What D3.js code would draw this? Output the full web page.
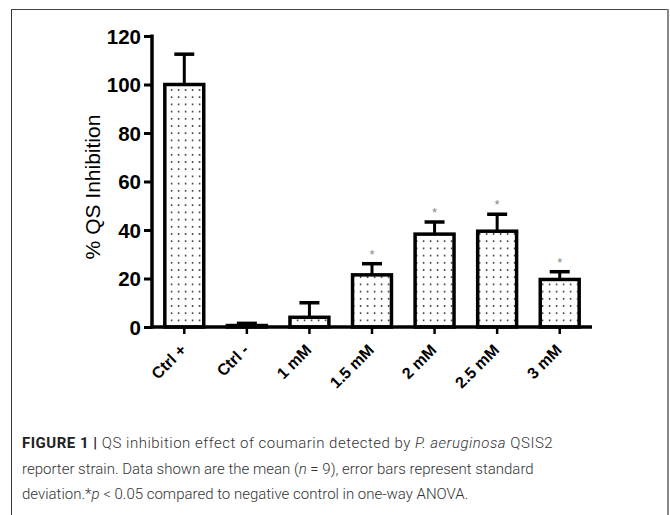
<!DOCTYPE html>
<html><head><meta charset="utf-8">
<script src="https://cdn.jsdelivr.net/npm/d3@7"></script>
<style>body{margin:0;background:#fff}svg{display:block}</style>
</head><body>
<svg id="c" width="670" height="515"></svg>
<script>
const categories = ["Ctrl +","Ctrl -","1 mM","1.5 mM","2 mM","2.5 mM","3 mM"];
const means = [100, 0.6, 4, 21.5, 38.3, 39.5, 19.6];
const errors = [12.5, 0.9, 6, 4.6, 5, 7, 3.2];
const significant = [false, false, false, true, true, true, true];
const yTicks = [0,20,40,60,80,100,120];
const yLabel = "% QS Inhibition";

const svg = d3.select("#c");
// frame
svg.append("line").attr("x1",11.5).attr("x2",11.5).attr("y1",9).attr("y2",515).attr("stroke","#333").attr("stroke-width",1);
svg.append("line").attr("x1",11).attr("x2",668).attr("y1",9.5).attr("y2",9.5).attr("stroke","#444").attr("stroke-width",1.2);
svg.append("line").attr("x1",668).attr("x2",668).attr("y1",9).attr("y2",515).attr("stroke","#888").attr("stroke-width",2);

const defs = svg.append("defs");
const pat = defs.append("pattern").attr("id","dots").attr("patternUnits","userSpaceOnUse")
  .attr("width",7).attr("height",7.2);
pat.append("rect").attr("width",7).attr("height",7.2).attr("fill","#fff");
pat.append("rect").attr("x",2.8).attr("y",2.8).attr("width",1.6).attr("height",1.6).attr("fill","#333");

const x = d3.scaleBand().domain(categories).range([153,591]).paddingInner(0.33).paddingOuter(0.165);
const y = d3.scaleLinear().domain([0,120]).range([327,36]);

const g = svg.append("g");
// bars
g.selectAll("rect.bar").data(categories).join("rect").attr("class","bar")
  .attr("x",d=>x(d)+1.5).attr("width",x.bandwidth()-3)
  .attr("y",(d,i)=>y(means[i])).attr("height",(d,i)=>Math.max(0,y(0)-y(means[i])))
  .attr("fill","url(#dots)").attr("stroke","#000").attr("stroke-width",3.5);
// error bars
const cx = d=>x(d)+x.bandwidth()/2;
g.selectAll("line.err").data(categories).join("line").attr("class","err")
  .attr("x1",cx).attr("x2",cx)
  .attr("y1",(d,i)=>y(means[i])).attr("y2",(d,i)=>y(means[i]+errors[i]))
  .attr("stroke","#000").attr("stroke-width",3);
g.selectAll("line.cap").data(categories).join("line").attr("class","cap")
  .attr("x1",d=>cx(d)-10).attr("x2",d=>cx(d)+10)
  .attr("y1",(d,i)=>y(means[i]+errors[i])).attr("y2",(d,i)=>y(means[i]+errors[i]))
  .attr("stroke","#000").attr("stroke-width",3.5);
// asterisks
g.selectAll("text.ast").data(categories.filter((d,i)=>significant[i])).join("text").attr("class","ast")
  .attr("x",cx)
  .attr("y",d=>{const i=categories.indexOf(d);return y(means[i]+errors[i])-5;})
  .attr("text-anchor","middle").attr("font-family","Liberation Sans, Arial, sans-serif")
  .attr("font-size",13).attr("fill","#888").text("*");

// axes
const yAxis = d3.axisLeft(y).tickValues(yTicks).tickSize(8).tickPadding(3).tickFormat(d3.format("d"));
const ya = svg.append("g").attr("transform","translate(152,0)").call(yAxis);
ya.select(".domain").attr("d","M0,34.5V328.5").attr("stroke","#000").attr("stroke-width",3.5);
ya.selectAll(".tick line").attr("stroke","#000").attr("stroke-width",3);
ya.selectAll(".tick text").attr("font-family","Liberation Sans, Arial, sans-serif").attr("font-weight","bold")
  .attr("font-size",20.5).attr("fill","#000").attr("dy","0.36em");

const xAxis = d3.axisBottom(x).tickSize(7).tickSizeOuter(0);
const xa = svg.append("g").attr("transform","translate(0,327)").call(xAxis);
xa.select(".domain").attr("d","M150.5,0H592").attr("stroke","#000").attr("stroke-width",3.5);
xa.selectAll(".tick line").attr("stroke","#000").attr("stroke-width",2.5);
xa.selectAll(".tick text").attr("font-family","Liberation Sans, Arial, sans-serif").attr("font-weight","bold")
  .attr("font-size",16).attr("fill","#000").attr("text-anchor","end")
  .attr("transform","translate(-1,20) rotate(-45)").attr("dy","0.35em").attr("y",0);

svg.append("text").attr("transform","translate(100,187) rotate(-90)").attr("text-anchor","middle")
  .attr("font-family","Liberation Sans, Arial, sans-serif").attr("font-size",21).attr("fill","#000").text(yLabel);

// caption
const capFont = "Roboto, Liberation Sans, Arial, sans-serif";
const lines = [
  {y:448, ls:0.5, parts:[["FIGURE 1 | ","bold",""],["QS inhibition effect of coumarin detected by ","",""],["P. aeruginosa","","italic"],[" QSIS2","",""]]},
  {y:474, ls:0, parts:[["reporter strain. Data shown are the mean (","",""],["n","","italic"],[" = 9), error bars represent standard","",""]]},
  {y:499, ls:0, parts:[["deviation.*","",""],["p","","italic"],[" < 0.05 compared to negative control in one-way ANOVA.","",""]]}
];
lines.forEach(l=>{
  const t = svg.append("text").attr("x",22).attr("y",l.y).attr("font-family",capFont).attr("font-size",15)
    .attr("fill","#333").style("font-weight","300").style("letter-spacing",l.ls+"px");
  l.parts.forEach(p=>{
    const s = t.append("tspan").text(p[0]);
    if(p[1]) s.style("font-weight",p[1]).attr("fill","#222");
    if(p[2]) s.style("font-style",p[2]);
  });
});
</script>
</body></html>
